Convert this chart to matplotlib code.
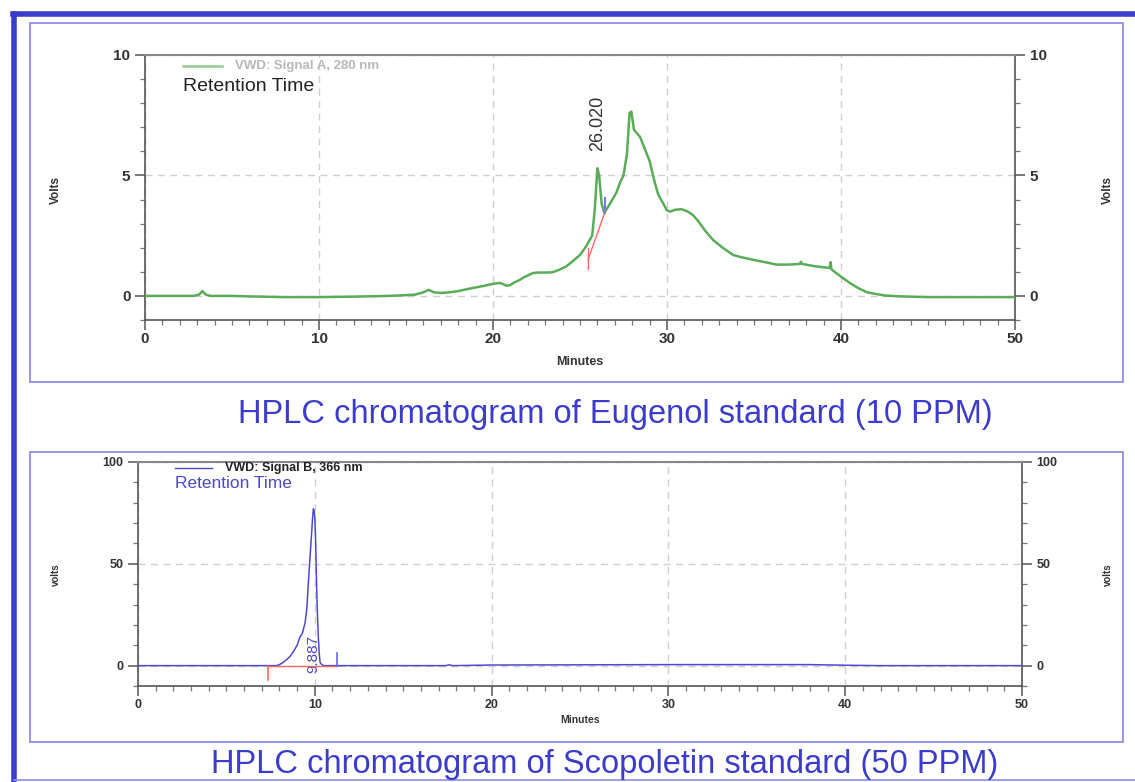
import matplotlib
matplotlib.use("Agg")
import matplotlib.pyplot as plt
from matplotlib.ticker import MultipleLocator
from matplotlib.lines import Line2D
from matplotlib.patches import Rectangle

plt.rcParams['font.family'] = ['Liberation Sans', 'DejaVu Sans']

# ---- data: Eugenol (Signal A, 280 nm) ----
eug_time = [0, 2.8, 3.1, 3.3, 3.5, 3.8, 5, 6, 8, 10, 12, 14, 15.5, 16.0, 16.3, 16.6,
            17, 17.5, 18, 18.5, 19, 19.5, 20, 20.4, 20.8, 21.0, 21.2, 21.5, 21.8, 22.3,
            22.6, 23.0, 23.4, 23.8, 24.2, 24.6, 25.0, 25.3, 25.7, 25.85,
            26.0, 26.1, 26.25, 26.4, 26.7, 27.1, 27.3, 27.5, 27.7, 27.85, 27.95, 28.1,
            28.45, 29.0, 29.3, 29.5, 29.77, 30.0, 30.17, 30.5, 30.84, 31.2, 31.5, 31.8,
            32.2, 32.65, 33.2, 33.8, 34.3, 34.95, 35.5, 36.3, 37.0, 37.65, 37.7, 37.75,
            38.5, 39.35, 39.4, 39.45, 40.0, 40.5, 41.0, 41.5, 42.0, 42.5, 43.4, 45, 48, 50]
eug_volts = [0, 0, 0.05, 0.2, 0.05, 0, 0, -0.02, -0.05, -0.05, -0.03, 0, 0.05, 0.15, 0.25, 0.15,
             0.12, 0.15, 0.2, 0.28, 0.35, 0.42, 0.5, 0.54, 0.42, 0.45, 0.55, 0.65, 0.78, 0.95,
             0.97, 0.97, 0.98, 1.08, 1.22, 1.45, 1.7, 2.0, 2.5, 3.6,
             5.3, 5.0, 3.8, 3.45, 3.8, 4.3, 4.7, 5.0, 5.9, 7.6, 7.65, 6.9,
             6.6, 5.6, 4.7, 4.2, 3.85, 3.55, 3.5, 3.58, 3.6, 3.5, 3.35, 3.1,
             2.7, 2.32, 2.0, 1.7, 1.6, 1.5, 1.42, 1.3, 1.3, 1.33, 1.42, 1.33,
             1.23, 1.16, 1.4, 1.1, 0.8, 0.54, 0.32, 0.15, 0.08, 0.02, -0.02, -0.05, -0.05, -0.05]
eug_rt = 26.020
eug_rt_label = "26.020"
eug_base_x = [25.46, 26.42]
eug_base_y = [1.5, 3.45]

# ---- data: Scopoletin (Signal B, 366 nm) ----
sco_time = [0, 7.5, 7.84, 8.0, 8.2, 8.41, 8.6, 8.8, 9.0, 9.16, 9.3, 9.45, 9.55, 9.63, 9.72,
            9.82, 9.87, 9.92, 9.95, 10.0, 10.05, 10.1, 10.15, 10.2, 10.25, 10.3, 10.4,
            10.5, 17.4, 17.6, 17.8, 20, 30, 38, 40, 42, 50]
sco_volts = [0, 0, 0, 0.5, 1.5, 3, 4.5, 7, 10, 14, 16, 21, 28, 40, 52,
             65, 72, 77, 76.5, 73, 60, 40, 25, 14, 6, 1.5, 0.5,
             0, 0, 0.4, 0, 0.3, 0.5, 0.5, 0.2, 0, 0]
sco_rt = 9.887
sco_rt_label = "9.887"
sco_base_x = [7.37, 11.28]

x_ticks = [0, 10, 20, 30, 40, 50]
eug_yticks = [0, 5, 10]
sco_yticks = [0, 50, 100]

W, H = 1135, 782
fig = plt.figure(figsize=(W / 100, H / 100), dpi=100)

BLUE = '#3c3ccc'
BOX = '#8f8fe8'

def fx(px):
    return px / W

def fy(py):
    return 1 - py / H

# outer frame
fig.add_artist(Line2D([fx(13), 1.0], [fy(14), fy(14)], color=BLUE, lw=4))
fig.add_artist(Line2D([fx(14), fx(14)], [fy(14), 0], color=BLUE, lw=4))
fig.add_artist(Line2D([fx(14), 1.0], [fy(780), fy(780)], color=BOX, lw=1.2))
# inner boxes
fig.add_artist(Rectangle((fx(30), fy(382)), fx(1123) - fx(30), fy(23) - fy(382),
                         fill=False, ec=BOX, lw=1.3, transform=fig.transFigure))
fig.add_artist(Rectangle((fx(30), fy(742)), fx(1123) - fx(30), fy(452) - fy(742),
                         fill=False, ec=BOX, lw=1.3, transform=fig.transFigure))

TICKC = '#333333'

def style_axes(ax, ymaj, ymin, xmin_loc=1):
    ax.set_xlim(0, 50)
    ax.set_xticks(x_ticks)
    ax.xaxis.set_minor_locator(MultipleLocator(xmin_loc))
    ax.yaxis.set_major_locator(MultipleLocator(ymaj))
    ax.yaxis.set_minor_locator(MultipleLocator(ymin))
    for s in ['left', 'right', 'bottom']:
        ax.spines[s].set_color('#555555')
        ax.spines[s].set_linewidth(1.2)
    ax.spines['top'].set_color('#888888')
    ax.spines['top'].set_linewidth(1.5)
    ax.tick_params(which='major', direction='out', length=7, width=1.1, color='#555555',
                   labelcolor=TICKC, left=True, right=True, labelleft=True, labelright=True,
                   top=False)
    ax.tick_params(which='minor', direction='out', length=3.5, width=0.9, color='#777777',
                   left=True, right=True, top=False)
    ax.grid(True, which='major', ls=(0, (5, 4)), color='#cfcfcf', lw=1.0)

# ---------- top panel ----------
ax1 = fig.add_axes([fx(145), fy(320), fx(1015) - fx(145), fy(55) - fy(320)])
style_axes(ax1, 5, 1)
ax1.set_ylim(-1, 10)
ax1.set_yticks(eug_yticks)
ax1.tick_params(axis='x', which='major', pad=2)
for lab in ax1.get_xticklabels() + ax1.get_yticklabels():
    lab.set_fontsize(11)
    lab.set_fontweight('bold')
ax1.plot(eug_time, eug_volts, color='#5aab5a', lw=1.8, zorder=3)
ax1.plot(eug_base_x, eug_base_y, color='#ff6666', lw=1.0, zorder=4)
ax1.plot([eug_base_x[0], eug_base_x[0]], [eug_base_y[0] - 0.4, eug_base_y[0] + 0.5],
         color='#ff6666', lw=1.0, zorder=4)
ax1.plot([eug_base_x[1], eug_base_x[1]], [eug_base_y[1], eug_base_y[1] + 0.6],
         color='#7777ee', lw=1.5, zorder=4)
ax1.text(eug_rt, 6.0, eug_rt_label, rotation=90, ha='center', va='bottom',
         fontsize=13, color='#333333')
ax1.set_xlabel('Minutes', fontsize=9, fontweight='bold', color='#333333', labelpad=7)
ax1.plot([2.2, 4.4], [9.55, 9.55], color='#8fcf8f', lw=1.8)
ax1.text(5.2, 9.55, 'VWD: Signal A, 280 nm', fontsize=9.5, fontweight='bold',
         color='#b8b8b8', va='center')
ax1.text(2.2, 8.7, 'Retention Time', fontsize=14, color='#222222', va='center')
fig.text(fx(56), fy(190), 'Volts', rotation=90, fontsize=8.5, fontweight='bold',
         color='#333333', ha='center', va='center')
fig.text(fx(1108), fy(190), 'Volts', rotation=90, fontsize=8.5, fontweight='bold',
         color='#333333', ha='center', va='center')
fig.text(fx(615), fy(414), 'HPLC chromatogram of Eugenol standard (10 PPM)',
         fontsize=23.5, color=BLUE, ha='center', va='center')

# ---------- bottom panel ----------
ax2 = fig.add_axes([fx(138), fy(686), fx(1022) - fx(138), fy(462) - fy(686)])
style_axes(ax2, 50, 10)
ax2.set_ylim(-10, 100)
ax2.set_yticks(sco_yticks)
ax2.tick_params(axis='x', which='major', pad=2)
for lab in ax2.get_xticklabels() + ax2.get_yticklabels():
    lab.set_fontsize(9)
    lab.set_fontweight('bold')
ax2.plot(sco_time, sco_volts, color='#4a4acc', lw=1.1, zorder=3)
ax2.plot(sco_base_x, [0, 0], color='#ff6666', lw=1.0, zorder=4)
ax2.plot([sco_base_x[0], sco_base_x[0]], [0, -7], color='#ff6666', lw=1.2, zorder=4)
ax2.plot([sco_base_x[1], sco_base_x[1]], [0, 6], color='#6666ee', lw=1.2, zorder=4)
ax2.text(sco_rt + 0.05, 5.5, sco_rt_label, rotation=90, ha='center', va='center',
         fontsize=11, color='#4a4acc')
ax2.set_xlabel('Minutes', fontsize=7.5, fontweight='bold', color='#333333', labelpad=3)
ax2.plot([2.1, 4.2], [97, 97], color='#4a4acc', lw=1.0)
ax2.text(4.9, 97, 'VWD: Signal B, 366 nm', fontsize=9, fontweight='bold',
         color='#222222', va='center')
ax2.text(2.1, 89.5, 'Retention Time', fontsize=12.5, color='#4a4acc', va='center')
fig.text(fx(56), fy(575), 'volts', rotation=90, fontsize=7, fontweight='bold',
         color='#333333', ha='center', va='center')
fig.text(fx(1108), fy(575), 'volts', rotation=90, fontsize=7, fontweight='bold',
         color='#333333', ha='center', va='center')
fig.text(fx(605), fy(764), 'HPLC chromatogram of Scopoletin standard (50 PPM)',
         fontsize=23.5, color=BLUE, ha='center', va='center')

fig.savefig('out.png', dpi=100)
